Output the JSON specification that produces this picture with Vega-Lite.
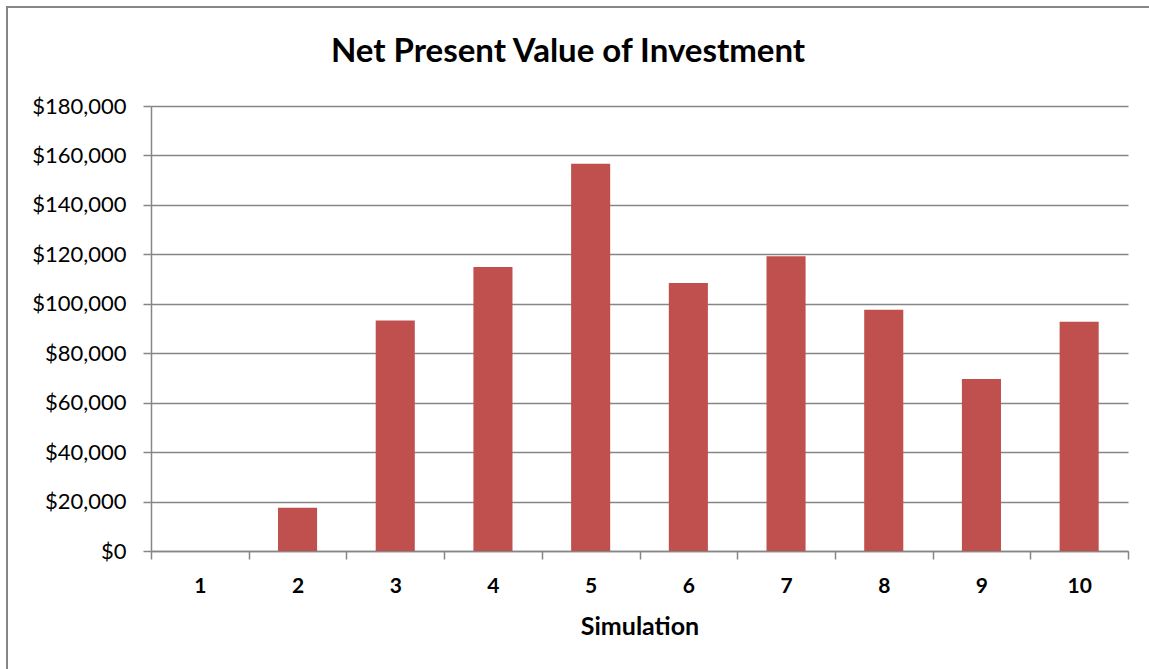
{
  "$schema": "https://vega.github.io/schema/vega-lite/v6.json",
  "autosize": {"type": "none"},
  "padding": {"left": 7, "top": 7, "right": 0, "bottom": 0},
  "width": 1142,
  "height": 662,
  "background": "white",
  "title": {
    "text": "Net Present Value of Investment",
    "font": "Lato",
    "fontSize": 33,
    "fontWeight": "bold",
    "color": "#000000",
    "anchor": "middle",
    "frame": "group",
    "offset": -62,
    "dx": -10
  },
  "data": {
    "values": [
      {"simulation": 1, "npv": 0},
      {"simulation": 2, "npv": 17500},
      {"simulation": 3, "npv": 93200},
      {"simulation": 4, "npv": 114900},
      {"simulation": 5, "npv": 156600},
      {"simulation": 6, "npv": 108400},
      {"simulation": 7, "npv": 119200},
      {"simulation": 8, "npv": 97600},
      {"simulation": 9, "npv": 69600},
      {"simulation": 10, "npv": 92700}
    ]
  },
  "mark": {"type": "bar", "color": "#C0504D", "width": {"band": 0.4}},
  "encoding": {
    "x": {
      "field": "simulation",
      "type": "ordinal",
      "title": "Simulation",
      "scale": {"range": [144, 1121], "paddingInner": 0, "paddingOuter": 0},
      "axis": {
        "orient": "bottom",
        "offset": -118,
        "labelAngle": 0,
        "labelFont": "Lato",
        "labelFontSize": 21,
        "labelFontWeight": "bold",
        "labelColor": "#000000",
        "labelPadding": 16,
        "tickBand": "extent",
        "tickSize": 8,
        "tickColor": "#868686",
        "tickWidth": 1.5,
        "domainColor": "#868686",
        "domainWidth": 1.5,
        "titleFont": "Lato",
        "titleFontSize": 25,
        "titleFontWeight": "bold",
        "titleColor": "#000000",
        "titlePadding": 18,
        "grid": false
      }
    },
    "y": {
      "field": "npv",
      "type": "quantitative",
      "title": null,
      "scale": {"domain": [0, 180000], "range": [544, 99], "nice": false},
      "axis": {
        "orient": "left",
        "offset": -144,
        "values": [0, 20000, 40000, 60000, 80000, 100000, 120000, 140000, 160000, 180000],
        "format": "$,.0f",
        "labelFont": "Lato",
        "labelFontSize": 22,
        "labelColor": "#000000",
        "labelPadding": 17,
        "tickSize": 8,
        "tickColor": "#868686",
        "tickWidth": 1.5,
        "domainColor": "#868686",
        "domainWidth": 1.5,
        "grid": true,
        "gridColor": "#868686",
        "gridWidth": 1.3
      }
    }
  },
  "config": {
    "view": {
      "stroke": "#868686",
      "strokeWidth": 2,
      "strokeDash": [1142, 1804, 662],
      "fill": "white"
    }
  }
}
